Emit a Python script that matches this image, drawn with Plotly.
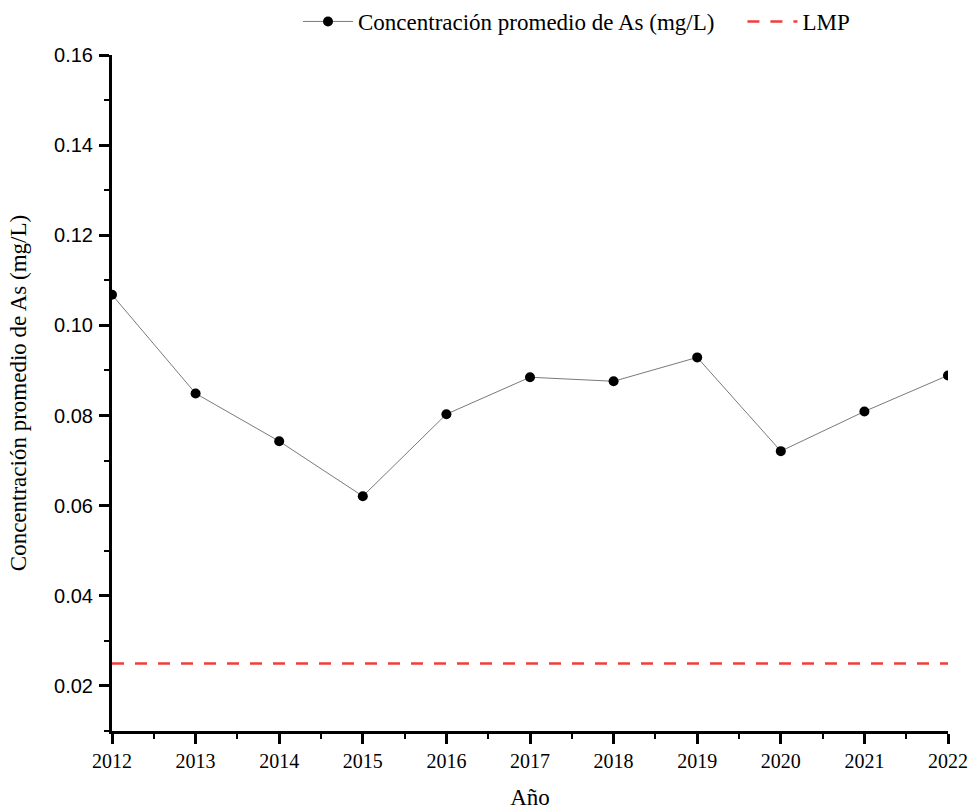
import plotly.graph_objects as go

# Annual mean arsenic concentration (mg/L)
years = [2012, 2013, 2014, 2015, 2016, 2017, 2018, 2019, 2020, 2021, 2022]
as_mean = [0.1068, 0.0849, 0.0743, 0.0621, 0.0803, 0.0885, 0.0876, 0.0929, 0.0721, 0.0809, 0.0889]

# Maximum permissible limit
lmp_value = 0.025

serif = "Liberation Serif"
sans = "Liberation Sans"

fig = go.Figure()

fig.add_trace(go.Scatter(
    x=years, y=as_mean,
    mode="lines+markers",
    name="Concentración promedio de As (mg/L)" + "\u00a0" * 4,
    line=dict(color="#7a7a7a", width=1),
    marker=dict(color="black", size=10),
))

fig.add_trace(go.Scatter(
    x=[years[0], years[-1]], y=[lmp_value, lmp_value],
    mode="lines",
    name="LMP",
    line=dict(color="#f23d3d", width=2.5, dash="12px,11px"),
))

axis_common = dict(
    showline=True, linecolor="black", linewidth=3,
    ticks="outside", ticklen=10, tickwidth=2.5, tickcolor="black",
    showgrid=False, zeroline=False, mirror=False, automargin=False,
)

fig.update_xaxes(
    **axis_common,
    range=[2012, 2022],
    tick0=2012, dtick=1, tickformat="d",
    minor=dict(ticks="outside", ticklen=5, tickwidth=2, tickcolor="black", dtick=0.5),
    tickfont=dict(family=serif, size=20, color="black"),
    title=dict(text="Año", font=dict(family=serif, size=23, color="black"), standoff=22),
)

fig.update_yaxes(
    **axis_common,
    range=[0.01, 0.16],
    tick0=0.02, dtick=0.02, tickformat=".2f",
    ticklabelstandoff=2,
    minor=dict(ticks="outside", ticklen=5, tickwidth=2, tickcolor="black", dtick=0.01, tick0=0.01),
    tickfont=dict(family=sans, size=20, color="black"),
    title=dict(text="Concentración promedio de As (mg/L)", font=dict(family=serif, size=23, color="black"), standoff=22),
)

fig.update_layout(
    width=971, height=810,
    margin=dict(l=112, r=23, t=55, b=79),
    plot_bgcolor="white", paper_bgcolor="white",
    legend=dict(
        orientation="h",
        xref="container", yref="container",
        x=298 / 971, xanchor="left",
        y=1.0, yanchor="top",
        font=dict(family=serif, size=23, color="black"),
        bgcolor="rgba(0,0,0,0)",
        itemwidth=50,
    ),
)

fig.write_html("out.html")
